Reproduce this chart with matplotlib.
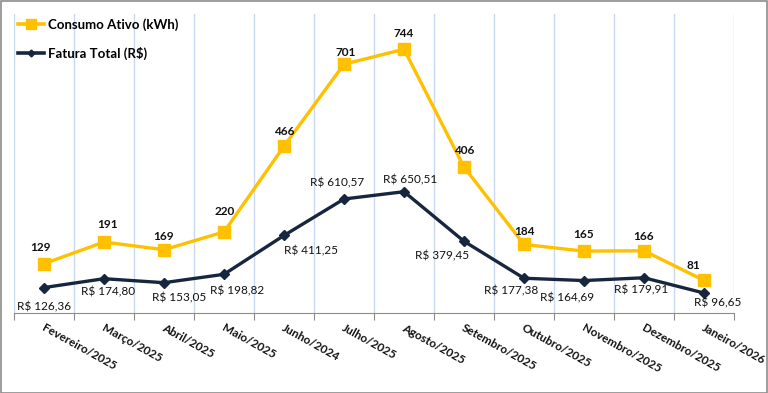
import matplotlib
matplotlib.use("Agg")
import matplotlib.pyplot as plt
from matplotlib.patches import Rectangle
from matplotlib.lines import Line2D

months = ["Fevereiro/2025", "Março/2025", "Abril/2025", "Maio/2025", "Junho/2024",
          "Julho/2025", "Agosto/2025", "Setembro/2025", "Outubro/2025",
          "Novembro/2025", "Dezembro/2025", "Janeiro/2026"]
consumo = [129, 191, 169, 220, 466, 701, 744, 406, 184, 165, 166, 81]
fatura = [126.36, 174.80, 153.05, 198.82, 411.25, 610.57, 650.51, 379.45,
          177.38, 164.69, 179.91, 96.65]

# label offsets in pixels (dx, dy) relative to point, dy positive = up
cons_off = [(-4, 16), (4, 18), (0, 13), (1, 20), (0, 15), (2, 12), (0, 16),
            (0, 17), (0, 13), (0, 17), (0, 14), (-11, 15)]
fat_off = [(0, -19), (4, -13), (15, -15), (13, -17), (27, -15), (-7, 16),
           (6, 12), (-22, -15), (-13, -13), (-17, -17), (-3, -12), (14, -10)]

plt.rcParams['font.family'] = ['Lato', 'DejaVu Sans']

W, H = 768, 393
fig = plt.figure(figsize=(W / 100, H / 100), dpi=100)
ax = fig.add_axes([14 / W, 80 / H, 720 / W, 299 / H])
ax2 = ax.twinx()

x = list(range(len(months)))
ax.set_xlim(-0.5, len(months) - 0.5)
ax.set_ylim(-12.5, 845)
ax2.set_ylim(-12.7, 1622)

yellow = "#FFC000"
navy = "#17263F"

for b in [i - 0.5 for i in range(len(months) + 1)]:
    ax.axvline(b, color="#C9D7EF", lw=1, zorder=0)

ax.plot(x, consumo, color=yellow, lw=2.4, marker="s", ms=8, zorder=3)
ax2.plot(x, fatura, color=navy, lw=2.4, marker="D", ms=5, zorder=3)

for i, v in enumerate(consumo):
    ax.annotate(str(v), (i, v), xytext=(cons_off[i][0] * 0.72, cons_off[i][1] * 0.72),
                textcoords="offset points", ha="center", va="center",
                fontsize=8.5, fontweight="bold", color="#111111")
for i, v in enumerate(fatura):
    s = "R$ " + f"{v:.2f}".replace(".", ",")
    ax2.annotate(s, (i, v), xytext=(fat_off[i][0] * 0.72, fat_off[i][1] * 0.72),
                 textcoords="offset points", ha="center", va="center",
                 fontsize=8.5, color="#111111")

for a in (ax, ax2):
    for s in ("left", "right", "top"):
        a.spines[s].set_visible(False)
    a.set_yticks([])
ax.spines["bottom"].set_color("#8C8C8C")
ax2.spines["bottom"].set_visible(False)

ax.set_xticks([i - 0.5 for i in range(len(months) + 1)], minor=False)
ax.set_xticklabels([])
ax.tick_params(axis="x", direction="out", length=5, color="#8C8C8C")
for i, m in enumerate(months):
    ax.annotate(m, (i, 0), xycoords=("data", "axes fraction"), xytext=(-1, -10),
                textcoords="offset points", rotation=-29, rotation_mode="anchor",
                ha="left", va="center", fontsize=8.5, fontweight="bold", color="#111111")

handles = [Line2D([], [], color=yellow, lw=2.6, marker="s", ms=6.5),
           Line2D([], [], color=navy, lw=2.6, marker="D", ms=3.5)]
fig.legend(handles, ["Consumo Ativo (kWh)", "Fatura Total (R$)"],
           loc="upper left", bbox_to_anchor=(18 / W, 1 - 18 / H), frameon=False,
           prop={"weight": "bold", "size": 9.5}, handlelength=2.0,
           handletextpad=0.25, labelspacing=1.2, borderaxespad=0, borderpad=0)

fig.patches.append(Rectangle((0.5 / W, 0.5 / H), 1 - 1.5 / W, 1 - 1.5 / H,
                             transform=fig.transFigure, fill=False,
                             edgecolor="#8C8C8C", lw=1.2))

fig.savefig("out.png", dpi=100)
